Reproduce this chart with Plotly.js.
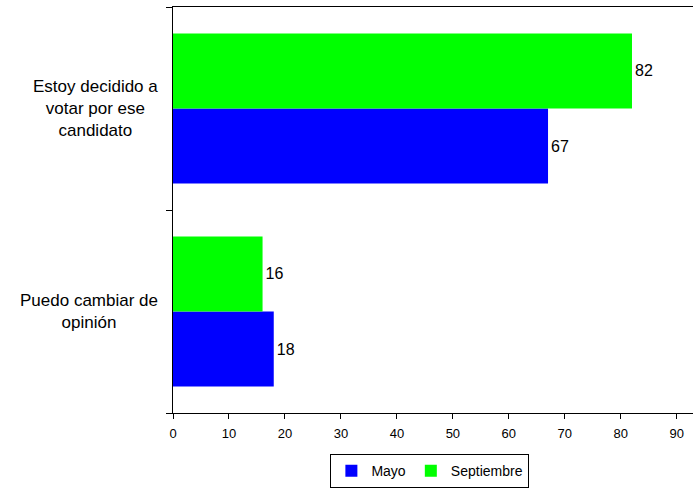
<!DOCTYPE html>
<html>
<head>
<meta charset="utf-8">
<script src="https://cdn.plot.ly/plotly-3.0.1.min.js"></script>
<style>html,body{margin:0;padding:0;background:#fff;}#chart{width:693px;height:490px;}</style>
</head>
<body>
<div id="chart"></div>
<script>
// Data (bottom category first, as Plotly draws categories bottom-up)
var categories = ["Puedo cambiar de opinión", "Estoy decidido a votar por ese candidato"];
var categoryLabels = ["Puedo cambiar de<br>opinión", "Estoy decidido a<br>votar por ese<br>candidato"];
var seriesNames = ["Mayo", "Septiembre"];
var mayo = [18, 67];
var septiembre = [16, 82];
var xTicks = [0, 10, 20, 30, 40, 50, 60, 70, 80, 90];

var font = "Liberation Sans, Arial, sans-serif";

var traces = [
  {type: "bar", orientation: "h", name: seriesNames[0], y: categories, x: mayo,
   marker: {color: "#0000FF"}, text: mayo.map(String), textposition: "outside",
   textfont: {family: font, size: 16, color: "#000"}, cliponaxis: false, hoverinfo: "x"},
  {type: "bar", orientation: "h", name: seriesNames[1], y: categories, x: septiembre,
   marker: {color: "#00FF00"}, text: septiembre.map(String), textposition: "outside",
   textfont: {family: font, size: 16, color: "#000"}, cliponaxis: false, hoverinfo: "x"}
];

var annotations = categories.map(function (c, i) {
  return {xref: "paper", yref: "y", x: -0.025, y: c, text: categoryLabels[i],
          xanchor: "right", yanchor: "middle", align: "center", showarrow: false,
          font: {family: font, size: 17, color: "#000"}};
});

var layout = {
  width: 693, height: 490,
  margin: {l: 173, r: 0, t: 7, b: 77, autoexpand: false},
  paper_bgcolor: "#fff", plot_bgcolor: "#fff",
  barmode: "group", bargap: 0.26, bargroupgap: 0,
  font: {family: font, color: "#000"},
  xaxis: {range: [0, 92.9], tickvals: xTicks, ticktext: xTicks.map(String),
          ticks: "outside", ticklen: 5, tickcolor: "#000", tickwidth: 1, ticklabelstandoff: 3,
          showgrid: false, zeroline: false, showline: true, linecolor: "#000", linewidth: 1,
          mirror: true, tickfont: {family: font, size: 13, color: "#000"}, fixedrange: true,
          automargin: false},
  yaxis: {type: "category", categoryorder: "array", categoryarray: categories,
          tickson: "boundaries", ticks: "outside", ticklen: 6, tickcolor: "#000", tickwidth: 1,
          showticklabels: false, showgrid: false, zeroline: false,
          showline: true, linecolor: "#000", linewidth: 1, fixedrange: true, automargin: false},
  showlegend: true,
  legend: {orientation: "h", x: 0.494, xanchor: "center", y: -0.185, yanchor: "bottom",
           bgcolor: "#fff", bordercolor: "#000", borderwidth: 1,
           font: {family: font, size: 14, color: "#000"}, traceorder: "normal",
           itemwidth: 30, tracegroupgap: 0},
  annotations: annotations
};

Plotly.newPlot("chart", traces, layout, {displayModeBar: false, staticPlot: true});
</script>
</body>
</html>
